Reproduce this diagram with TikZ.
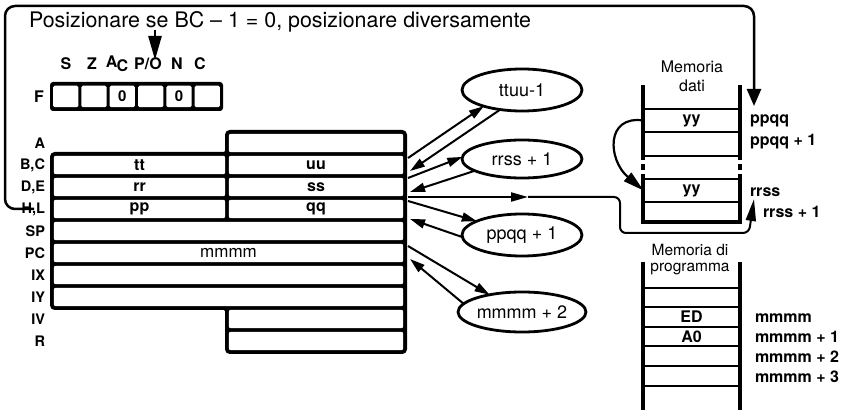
\documentclass[tikz,border=0pt]{standalone}
\usepackage{fontspec}
\setmainfont{TeX Gyre Heros}
\usetikzlibrary{arrows.meta,shapes.geometric}
\begin{document}
\begin{tikzpicture}[x=1pt,y=-1pt,
  every node/.style={inner sep=0pt, outer sep=0pt},
  fs/.style={font=\fontsize{#1}{#1}\selectfont},
  lab/.style={font=\fontsize{16}{16}\selectfont\bfseries},
  rowlab/.style={font=\fontsize{14.5}{14.5}\selectfont\bfseries, anchor=east},
  rlab/.style={font=\fontsize{16}{16}\selectfont\bfseries, anchor=west},
  cell/.style={rectangle, fill=white, rounded corners=2pt, minimum height=18.4pt, font=\fontsize{16}{16}\selectfont\bfseries},
  fcell/.style={rectangle, fill=white, rounded corners=1.5pt, minimum width=25.3pt, minimum height=21.5pt, font=\fontsize{15}{15}\selectfont\bfseries},
  conn/.style={line width=2pt, -{Triangle[length=15pt,width=9pt]}},
  ell/.style={ellipse, draw, line width=2.8pt, minimum width=120pt, minimum height=#1, font=\fontsize{18}{18}\selectfont},
  memline/.style={line width=3.6pt},
  rowline/.style={line width=2.6pt},
  memrow/.style={rectangle, minimum width=96pt, minimum height=20pt, font=\fontsize{16}{16}\selectfont\bfseries},
]
\useasboundingbox (0,0) rectangle (849,419);

% title and big loop
\node[fs=21.4, anchor=base west] (title) at (29,28) {Posizionare se BC – 1 = 0, posizionare diversamente};
\coordinate (ls) at (34,209);
\coordinate (lt) at (754,106);
\draw[line width=2.5pt, rounded corners=10pt, -{Triangle[length=17pt,width=14pt]}] (ls) -- (5,209) -- (5,6) -- (754,6) -- (lt);
\coordinate (ts) at (155,30);
\coordinate (tt) at (155,60);
\draw[line width=2.5pt, -{Triangle[length=24pt,width=13pt]}] (ts) -- (tt);

% flags
\node[lab] (fS) at (66,64) {S};
\node[lab] (fZ) at (92,64) {Z};
\node[lab] (fA) at (117,64) {A\kern-1pt\raisebox{-4pt}{C}};
\node[lab] (fP) at (148,64) {P/O};
\node[lab] (fN) at (177,64) {N};
\node[lab] (fC) at (200,64) {C};
\node[lab] (fF) at (39,97) {F};
\fill[black, rounded corners=3pt] (50,82) rectangle (223,111);
\node[fcell] (f1) at (65.7,96.5) {};
\node[fcell] (f2) at (94,96.5) {};
\node[fcell] (f3) at (122.3,96.5) {0};
\node[fcell] (f4) at (150.7,96.5) {};
\node[fcell] (f5) at (179,96.5) {0};
\node[fcell] (f6) at (207.3,96.5) {};

% register block
\fill[black, draw=black, line width=4pt, rounded corners=3pt] (227,132) -- (405,132) -- (405,352) -- (227,352) -- (227,308) -- (52,308) -- (52,154) -- (227,154) -- cycle;
\node[cell, minimum width=174.4pt] (rA) at (316,143) {};
\node[cell, minimum width=171.4pt] (rB) at (139.5,165) {tt};
\node[cell, minimum width=174.4pt] (rC) at (316,165) {uu};
\node[cell, minimum width=171.4pt] (rD) at (139.5,187) {rr};
\node[cell, minimum width=174.4pt] (rE) at (316,187) {ss};
\node[cell, minimum width=171.4pt] (rH) at (139.5,209) {pp};
\node[cell, minimum width=174.4pt] (rL) at (316,209) {qq};
\node[cell, minimum width=349.4pt] (rSP) at (228.5,231) {};
\node[cell, minimum width=349.4pt, font=\fontsize{17}{17}\selectfont] (rPC) at (228.5,253) {mmmm};
\node[cell, minimum width=349.4pt] (rIX) at (228.5,275) {};
\node[cell, minimum width=349.4pt] (rIY) at (228.5,297) {};
\node[cell, minimum width=174.4pt] (rIV) at (316,319) {};
\node[cell, minimum width=174.4pt] (rR) at (316,341) {};
\node[rowlab] (lA) at (45,143) {A};
\node[rowlab] (lBC) at (45,165) {B,C};
\node[rowlab] (lDE) at (45,187) {D,E};
\node[rowlab] (lHL) at (45,209) {H,L};
\node[rowlab] (lSP) at (45,231) {SP};
\node[rowlab] (lPC) at (45,253) {PC};
\node[rowlab] (lIX) at (45,275) {IX};
\node[rowlab] (lIY) at (45,297) {IY};
\node[rowlab] (lIV) at (45,319) {IV};
\node[rowlab] (lR) at (45,341) {R};

% ellipses
\node[ell=42pt] (e1) at (522,90) {ttuu-1};
\node[ell=38pt] (e2) at (522,159) {rrss + 1};
\node[ell=42pt] (e3) at (522,235) {ppqq + 1};
\node[ell=40pt] (e4) at (522,312) {mmmm + 2};

\coordinate (o1) at (408,158); \coordinate (i1) at (410,171);
\coordinate (o2) at (408,178); \coordinate (i2) at (410,192);
\coordinate (h0) at (408,197);
\coordinate (o3) at (408,201); \coordinate (i3) at (410,219);
\coordinate (o4) at (408,246); \coordinate (i4) at (410,259);
\draw[conn] (o1) -- (e1.203);
\draw[conn] (e1.222) -- (i1);
\draw[conn] (o2) -- (e2.178);
\draw[conn] (e2.194) -- (i2);
\draw[conn] (o3) -- (e3.163);
\draw[conn] (e3.182) -- (i3);
\draw[conn] (o4) -- (e4.152);
\draw[conn] (e4.172) -- (i4);

% connector to rrss+1
\coordinate (hm) at (528,197);
\coordinate (rt) at (754,199);
\draw[line width=2pt, -{Triangle[length=17pt,width=9pt]}] (h0) -- (hm);
\draw[line width=2pt, rounded corners=6pt, -{Triangle[length=22pt,width=10pt]}] (hm) -- (620,197) -- (620,233) -- (749,233) -- (rt);

% Memoria dati
\node[fs=16] (mdt1) at (692,67) {Memoria};
\node[fs=16] (mdt2) at (692,86) {dati};
\foreach \x in {643,740} {
  \draw[memline] (\x,85) -- (\x,160) (\x,164) -- (\x,170) (\x,174) -- (\x,223);
}
\foreach \y in {109,132,156,179,202} {
  \draw[rowline] (643,\y) -- (740,\y);
}
\draw[line width=4pt] (641.2,222) -- (741.8,222);
\node[memrow] (d1) at (691.5,120.5) {yy};
\node[memrow] (d2) at (691.5,144) {};
\node[memrow] (d4) at (691.5,190.5) {yy};
\draw[line width=2.2pt, -{Triangle[length=21pt,width=11pt]}] (d1.west) .. controls (605,115) and (608,160) .. (d4.west);
\node[rlab] (a1) at (750,121) {ppqq};
\node[rlab] (a2) at (750,142) {ppqq + 1};
\node[rlab] (a3) at (750,192) {rrss};
\node[rlab] (a4) at (763,212) {rrss + 1};

% Memoria di programma
\node[fs=15.5] (mpt1) at (690,250) {Memoria di};
\node[fs=15.5] (mpt2) at (690,269) {programma};
\foreach \x in {643,740} {
  \draw[memline] (\x,262) -- (\x,410);
}
\foreach \y in {288,307,327,346,366,386} {
  \draw[rowline] (643,\y) -- (740,\y);
}
\node[memrow] (p1) at (691.5,317) {ED};
\node[memrow] (p2) at (691.5,336.5) {A0};
\node[rlab] (b1) at (755,318) {mmmm};
\node[rlab] (b2) at (755,337) {mmmm + 1};
\node[rlab] (b3) at (755,357) {mmmm + 2};
\node[rlab] (b4) at (755,377) {mmmm + 3};
\end{tikzpicture}
\end{document}
